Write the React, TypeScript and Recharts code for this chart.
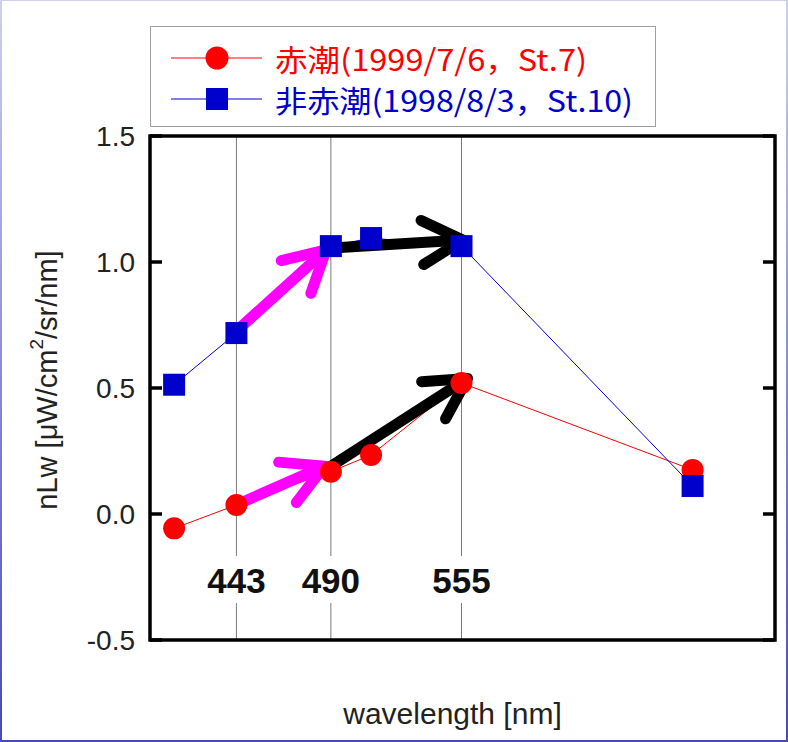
import React from 'react'
import {
  CartesianGrid,
  Line,
  LineChart,
  ReferenceArea,
  ReferenceLine,
  XAxis,
  YAxis,
} from 'recharts'

// SeaWiFS bands (nm)
const wavelengths = [412, 443, 490, 510, 555, 670]
// nLw, red tide station (1999/7/6, St.7)
const redTide = [-0.057, 0.036, 0.168, 0.234, 0.52, 0.175]
// nLw, non red tide station (1998/8/3, St.10)
const nonRedTide = [0.513, 0.718, 1.063, 1.095, 1.063, 0.111]

const seriesNames = ['赤潮(1999/7/6，St.7)', '非赤潮(1998/8/3，St.10)']
const seriesColors = ['#ff0000', '#0000cc']
const labeledBands = [443, 490, 555]
const yTicks = [-0.5, 0, 0.5, 1.0, 1.5]

// annotation arrows: [wavelength, nLw] start -> end
const arrowFrom = [
  [445.3, 0.743],
  [492.6, 1.057],
  [444.5, 0.042],
  [488.4, 0.181],
]
const arrowTo = [
  [487.6, 1.048],
  [555.6, 1.087],
  [486.8, 0.19],
  [558.0, 0.538],
]
const arrowColors = ['#ff00ff', '#000000', '#ff00ff', '#000000']

const data = wavelengths.map((w, i) => ({ w, red: redTide[i], blue: nonRedTide[i] }))

const FONT = '"Liberation Sans", Arial, sans-serif'

function arrowShape(color: string) {
  return (props: any) => {
    const { x1, y1, x2, y2 } = props
    const ang = Math.atan2(y2 - y1, x2 - x1)
    const L = 46
    const spread = 0.5
    const ax = x2 - L * Math.cos(ang - spread)
    const ay = y2 - L * Math.sin(ang - spread)
    const bx = x2 - L * Math.cos(ang + spread)
    const by = y2 - L * Math.sin(ang + spread)
    return (
      <g>
        <line x1={x1} y1={y1} x2={x2} y2={y2} stroke={color} strokeWidth={11} />
        <polyline
          points={`${ax},${ay} ${x2},${y2} ${bx},${by}`}
          fill="none"
          stroke={color}
          strokeWidth={11}
          strokeLinecap="round"
          strokeLinejoin="round"
        />
      </g>
    )
  }
}

// inward tick marks on both the left and right frame edges
const sideTicks = (props: any) => {
  const { x1, x2, y1 } = props
  return (
    <g>
      <line x1={x1} y1={y1} x2={x1 + 12} y2={y1} stroke="#000" strokeWidth={3.5} />
      <line x1={x2 - 12} y1={y1} x2={x2} y2={y1} stroke="#000" strokeWidth={3.5} />
    </g>
  )
}

const BandTick = (props: any) => {
  const { x, y, payload } = props
  return (
    <g>
      <rect x={x - 30} y={y - 84} width={60} height={47} fill="#fff" />
      <text
        x={x}
        y={y - 60}
        textAnchor="middle"
        dominantBaseline="central"
        fontSize={35}
        fontWeight="bold"
        fontFamily={FONT}
        fill="#111"
      >
        {payload.value}
      </text>
    </g>
  )
}

const SquareDot = (props: any) => {
  const { cx, cy, index } = props
  return <rect key={`sq-${index}`} x={cx - 11} y={cy - 11} width={22} height={22} fill={seriesColors[1]} />
}

const XLabel = (props: any) => {
  const vb = props.viewBox
  return (
    <text
      x={vb.x + vb.width / 2 - 10}
      y={724}
      textAnchor="middle"
      fontSize={30}
      fontFamily={FONT}
      fill="#222"
    >
      wavelength [nm]
    </text>
  )
}

const YLabel = (props: any) => {
  const vb = props.viewBox
  const cx = 47
  const cy = vb.y + vb.height / 2 - 8
  return (
    <text
      transform={`translate(${cx},${cy}) rotate(-90)`}
      textAnchor="middle"
      dominantBaseline="central"
      fontSize={29}
      fontFamily={FONT}
      fill="#222"
    >
      nLw [μW/cm
      <tspan fontSize={19} dy={-11}>
        2
      </tspan>
      <tspan dy={11}>/sr/nm]</tspan>
    </text>
  )
}

function LegendBox() {
  const widths = [312, 358]
  return (
    <div
      style={{
        position: 'absolute',
        left: 150,
        top: 26,
        width: 506,
        height: 101,
        border: '1px solid #a0a0a0',
        boxSizing: 'border-box',
        background: '#fff',
      }}
    >
      <svg width={504} height={99} style={{ display: 'block' }}>
        {seriesNames.map((name, i) => {
          const cy = 31 + i * 41
          const c = seriesColors[i]
          return (
            <g key={name}>
              <line x1={20} y1={cy} x2={111} y2={cy} stroke={c} strokeWidth={1} />
              {i === 0 ? (
                <circle cx={66} cy={cy} r={11.5} fill={c} />
              ) : (
                <rect x={55} y={cy - 11} width={22} height={22} fill={c} />
              )}
              <text
                x={124}
                y={cy}
                dominantBaseline="central"
                fontSize={30}
                fontFamily='"Noto Sans CJK JP", sans-serif'
                fill={c}
                textLength={widths[i]}
                lengthAdjust="spacingAndGlyphs"
              >
                {name}
              </text>
            </g>
          )
        })}
      </svg>
    </div>
  )
}

export default function App() {
  return (
    <div style={{ position: 'absolute', left: 0, top: 0, width: 788, height: 742 }}>
      <div
        style={{
          position: 'absolute',
          inset: 0,
          background: 'linear-gradient(to bottom, #cfcff0, #4848b8)',
        }}
      />
      <div style={{ position: 'absolute', left: 2, top: 1, width: 784, height: 739, background: '#fff' }} />
      <div style={{ position: 'absolute', left: 0, top: 0 }}>
        <LineChart
          width={788}
          height={742}
          data={data}
          margin={{ top: 136, right: 13, bottom: 72, left: 90 }}
        >
          <CartesianGrid horizontal={false} stroke="#7a7a7a" strokeWidth={1} />
          <XAxis
            dataKey="w"
            type="number"
            domain={[400, 711]}
            ticks={labeledBands}
            interval={0}
            axisLine={false}
            tickLine={false}
            tickSize={0}
            tickMargin={0}
            height={30}
            tick={BandTick}
            allowDataOverflow
            label={{ content: XLabel }}
          />
          <YAxis
            domain={[-0.5, 1.5]}
            ticks={yTicks}
            interval={0}
            width={60}
            axisLine={false}
            tickLine={false}
            tickSize={0}
            tickMargin={15}
            tick={{ fontSize: 28, fill: '#222', fontFamily: FONT }}
            tickFormatter={(v: number) => v.toFixed(1)}
            label={{ content: YLabel }}
          />
          {yTicks.map((t) => (
            <ReferenceLine key={`tick-${t}`} y={t} shape={sideTicks} ifOverflow="visible" />
          ))}
          <Line
            dataKey="red"
            stroke={seriesColors[0]}
            strokeWidth={1}
            dot={{ r: 11, fill: seriesColors[0], stroke: 'none' }}
            isAnimationActive={false}
          />
          <Line
            dataKey="blue"
            stroke={seriesColors[1]}
            strokeWidth={1}
            dot={SquareDot}
            isAnimationActive={false}
          />
          {arrowFrom.map((f, i) => (
            <ReferenceLine
              key={`arrow-${i}`}
              segment={[
                { x: f[0], y: f[1] },
                { x: arrowTo[i][0], y: arrowTo[i][1] },
              ]}
              ifOverflow="visible"
              shape={arrowShape(arrowColors[i])}
            />
          ))}
          <ReferenceArea
            x1={400}
            x2={711}
            y1={-0.5}
            y2={1.5}
            fill="none"
            stroke="#000"
            strokeWidth={3.5}
            ifOverflow="visible"
          />
        </LineChart>
      </div>
      <LegendBox />
    </div>
  )
}
